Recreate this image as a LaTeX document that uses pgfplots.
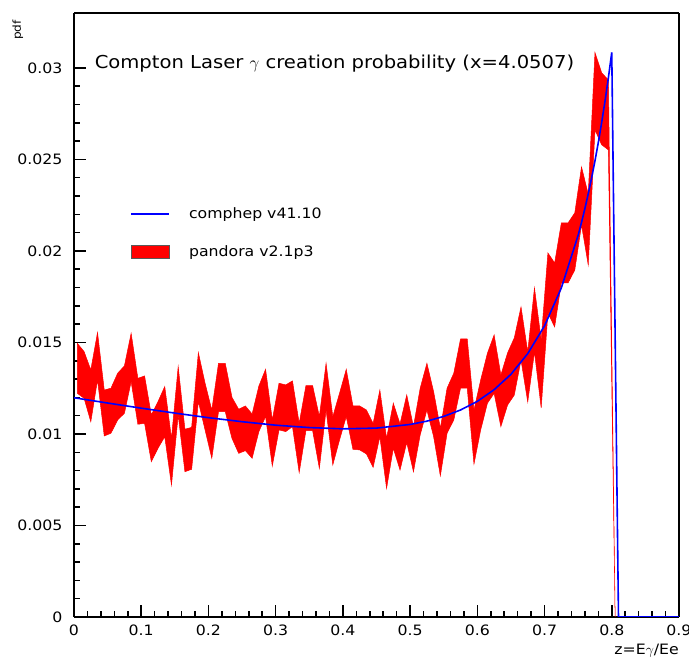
\documentclass[border=0pt]{standalone}
\usepackage{fontspec}
\setmainfont{DejaVu Sans}[FakeStretch=1.1]
\usepackage{pgfplots}
\usepackage{pgfplotstable}
\pgfplotsset{compat=1.18}
\usepgfplotslibrary{fillbetween}

% pandora band: bin centre, lower edge, upper edge
\pgfplotstableread{
x      lo       up
0.005  0.01222  0.01495
0.015  0.01195  0.01450
0.025  0.01067  0.01350
0.035  0.01295  0.01554
0.045  0.00989  0.01240
0.055  0.01004  0.01250
0.065  0.01077  0.01332
0.075  0.01113  0.01372
0.085  0.01286  0.01550
0.095  0.01053  0.01304
0.105  0.01058  0.01317
0.115  0.00849  0.01104
0.125  0.00922  0.01177
0.135  0.00985  0.01259
0.145  0.00721  0.00976
0.155  0.01104  0.01368
0.165  0.00794  0.01026
0.175  0.00807  0.01036
0.185  0.01177  0.01444
0.195  0.01022  0.01277
0.205  0.00867  0.01131
0.215  0.01122  0.01386
0.225  0.01122  0.01386
0.235  0.00976  0.01200
0.245  0.00894  0.01135
0.255  0.00909  0.01153
0.265  0.00867  0.01109
0.275  0.01013  0.01262
0.285  0.01095  0.01353
0.295  0.00825  0.01077
0.305  0.01022  0.01277
0.315  0.01013  0.01268
0.325  0.01040  0.01290
0.335  0.00789  0.01058
0.345  0.01018  0.01264
0.355  0.01018  0.01264
0.365  0.00812  0.01095
0.375  0.01131  0.01386
0.385  0.00831  0.01095
0.395  0.00967  0.01222
0.405  0.01095  0.01353
0.415  0.00916  0.01153
0.425  0.00913  0.01153
0.435  0.00891  0.01131
0.445  0.00818  0.01058
0.455  0.00985  0.01240
0.465  0.00703  0.00976
0.475  0.00922  0.01168
0.485  0.00803  0.01055
0.495  0.00953  0.01213
0.505  0.00794  0.01040
0.515  0.00995  0.01250
0.525  0.01131  0.01386
0.535  0.00985  0.01231
0.545  0.00771  0.01031
0.555  0.01004  0.01250
0.565  0.01077  0.01332
0.575  0.01250  0.01519
0.585  0.01250  0.01519
0.595  0.00836  0.01131
0.605  0.01022  0.01295
0.615  0.01168  0.01441
0.625  0.01222  0.01541
0.635  0.01040  0.01322
0.645  0.01158  0.01443
0.655  0.01213  0.01525
0.665  0.01404  0.01694
0.675  0.01175  0.01448
0.685  0.01448  0.01798
0.695  0.01142  0.01514
0.705  0.01661  0.01989
0.715  0.01585  0.01934
0.725  0.01825  0.02153
0.735  0.01825  0.02153
0.745  0.01896  0.02208
0.755  0.02142  0.02459
0.765  0.01923  0.02310
0.775  0.02661  0.03084
0.785  0.02580  0.02973
0.795  0.02552  0.02934
0.805  0        0
}\band

% comphep curve
\pgfplotstableread{
x      y
0.000  0.01198
0.050  0.01169
0.100  0.01141
0.150  0.01114
0.200  0.01089
0.250  0.01067
0.300  0.01048
0.350  0.01035
0.400  0.01028
0.450  0.01032
0.500  0.01052
0.525  0.01070
0.550  0.01096
0.575  0.01131
0.600  0.01178
0.625  0.01242
0.650  0.01326
0.675  0.01439
0.700  0.01591
0.725  0.01798
0.750  0.02086
0.755  0.02156
0.760  0.02231
0.765  0.02312
0.770  0.02399
0.775  0.02492
0.780  0.02593
0.785  0.02702
0.790  0.02820
0.795  0.02947
0.800  0.03085
0.810  0
0.900  0
}\comphep

\begin{document}
\begin{tikzpicture}
\begin{axis}[
    at={(0pt,0pt)}, anchor=south west,
    width=605pt, height=604pt, scale only axis,
    xmin=0, xmax=0.9, ymin=0, ymax=0.033,
    xtick={0,0.1,...,0.9},
    xticklabels={0,0.1,0.2,0.3,0.4,0.5,0.6,0.7,0.8,0.9},
    ytick={0,0.005,0.01,0.015,0.02,0.025,0.03},
    yticklabels={0,0.005,0.01,0.015,0.02,0.025,0.03},
    minor x tick num=4, minor y tick num=4,
    xtick pos=bottom, ytick pos=left,
    tick align=inside,
    major tick length=12pt, minor tick length=6pt,
    tick style={black, line width=1.5pt},
    separate axis lines,
    axis line style={black, line width=1.8pt},
    ticklabel style={font=\fontsize{14.3}{17}\selectfont},
    yticklabel style={xshift=-8pt},
    xticklabel style={yshift=-4pt},
    every axis title shift=0pt,
    title={Compton Laser $\gamma$ creation probability (x=4.0507)},
    title style={at={(rel axis cs:0.034,0.917)}, anchor=west, inner sep=0pt,
        font=\fontsize{17.8}{20}\selectfont},
    xlabel={z=E$\gamma$/Ee},
    xlabel style={at={(rel axis cs:1,-0.055)}, anchor=east, inner sep=0pt,
        font=\fontsize{14.3}{17}\selectfont},
    ylabel={pdf},
    ylabel style={at={(rel axis cs:-0.093,0.972)}, anchor=center, inner sep=0pt,
        font=\fontsize{11}{13}\selectfont},
    legend style={at={(rel axis cs:0.088,0.684)}, anchor=north west, draw=none, fill=none,
        font=\fontsize{14.3}{17}\selectfont, row sep=21pt,
        /tikz/every odd column/.append style={column sep=17pt}},
    legend cell align=left,
]
\addplot[name path=up, draw=none, forget plot] table[x=x, y=up] {\band};
\addplot[name path=lo, draw=none, forget plot] table[x=x, y=lo] {\band};
\addplot[fill=red, draw=red, line width=0.5pt, forget plot] fill between[of=up and lo];

\addplot[blue, line width=1.6pt,
    legend image code/.code={\draw[blue, line width=1.6pt] (0pt,0pt) -- (38pt,0pt);}]
    table[x=x, y=y] {\comphep};
\addlegendentry{comphep v41.10}
\addlegendimage{legend image code/.code={\draw[fill=red, draw=black!65, line width=0.8pt] (0pt,-6.5pt) rectangle (38pt,6.5pt);}}
\addlegendentry{pandora v2.1p3}
\end{axis}
\pgfresetboundingbox
\useasboundingbox (-74pt,-44pt) rectangle (615pt,617pt);
\end{tikzpicture}
\end{document}
